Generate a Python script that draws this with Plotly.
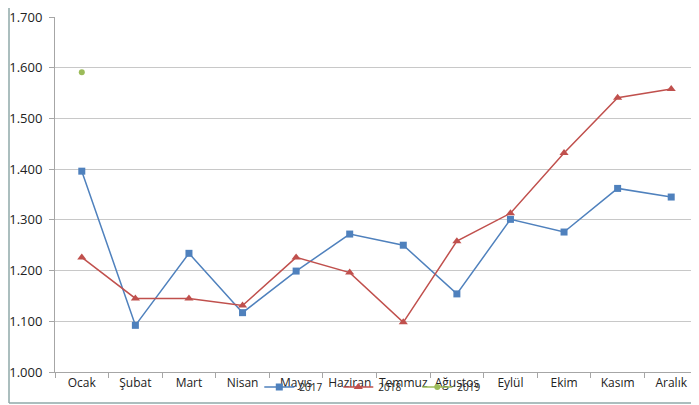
import plotly.graph_objects as go

months = ["Ocak", "Şubat", "Mart", "Nisan", "Mayıs", "Haziran", "Temmuz",
          "Ağustos", "Eylül", "Ekim", "Kasım", "Aralık"]
v2017 = [1.396, 1.092, 1.234, 1.117, 1.199, 1.272, 1.250, 1.154, 1.301, 1.276, 1.362, 1.345]
v2018 = [1.226, 1.145, 1.145, 1.131, 1.226, 1.196, 1.098, 1.258, 1.313, 1.432, 1.541, 1.558]
v2019 = [1.591]
y_ticks = [1.0, 1.1, 1.2, 1.3, 1.4, 1.5, 1.6, 1.7]
y_labels = ["1.000", "1.100", "1.200", "1.300", "1.400", "1.500", "1.600", "1.700"]

fig = go.Figure()
fig.add_trace(go.Scatter(x=months, y=v2017, name="2017", mode="lines+markers",
                         line=dict(color="#4F81BD", width=1.5),
                         marker=dict(symbol="square", size=7, color="#4F81BD")))
fig.add_trace(go.Scatter(x=months, y=v2018, name="2018", mode="lines+markers",
                         line=dict(color="#C0504D", width=1.5),
                         marker=dict(symbol="triangle-up", size=8, color="#C0504D")))
fig.add_trace(go.Scatter(x=months[:1], y=v2019, name="2019", mode="lines+markers",
                         line=dict(color="#9BBB59", width=1.5),
                         marker=dict(symbol="circle", size=6, color="#9BBB59")))

# page body has an 8px margin, so the figure is sized to fit the window
W, H = 691, 397
L, T = 47, 9
pw, ph = 643, 355
R = W - L - pw
B = H - T - ph

fig.update_layout(
    width=W, height=H,
    margin=dict(l=L, r=R, t=T, b=B, autoexpand=False),
    paper_bgcolor="white", plot_bgcolor="white",
    font=dict(family="Open Sans, Noto Sans, sans-serif", size=12, color="#222222"),
    showlegend=True,
    legend=dict(orientation="h", x=0.502, xanchor="center", y=-15 / ph, yanchor="middle",
                bgcolor="rgba(0,0,0,0)", font=dict(size=10), itemwidth=30,
                entrywidth=34, entrywidthmode="pixels", tracegroupgap=0),
    xaxis=dict(type="category", categoryorder="array", categoryarray=months,
               range=[-0.5, 11.5], showgrid=False, showline=True, linecolor="#A6A6A6",
               linewidth=1, ticks="outside", tickson="boundaries", ticklen=5,
               tickcolor="#A6A6A6", tickfont=dict(size=12), tickangle=0,
               automargin=False, ticklabeloverflow="allow"),
    yaxis=dict(range=[1.0, 1.7], tickvals=y_ticks, ticktext=y_labels,
               showgrid=True, gridcolor="#C8C8C8", gridwidth=1,
               showline=True, linecolor="#A6A6A6", linewidth=1,
               ticks="outside", ticklen=5, tickcolor="#A6A6A6",
               tickfont=dict(size=13), ticklabelstandoff=4, zeroline=False,
               automargin=False, ticklabeloverflow="allow"),
)

# outer chart frame (left and bottom edges visible)
fx = (1 - L) / pw
fy = -(B - 2) / ph
fig.add_shape(type="line", xref="paper", yref="paper",
              x0=fx, x1=fx, y0=fy, y1=1 + T / ph,
              line=dict(color="#8FA9A9", width=1.5))
fig.add_shape(type="line", xref="paper", yref="paper",
              x0=fx, x1=1 + R / pw, y0=fy, y1=fy,
              line=dict(color="#8FA9A9", width=1.5))

fig.write_html("out.html")
